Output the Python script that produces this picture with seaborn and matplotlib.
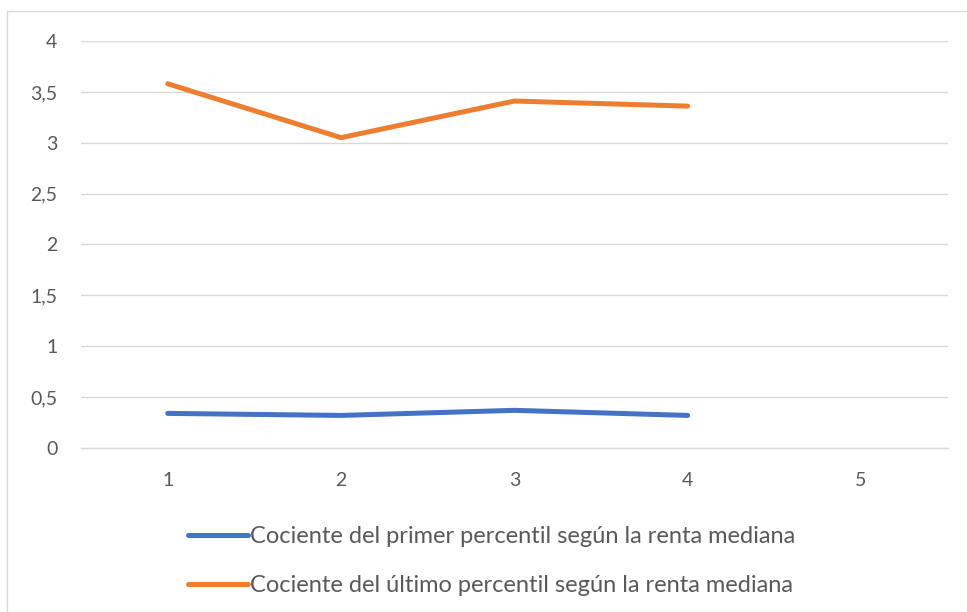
import matplotlib
matplotlib.use("Agg")
import matplotlib.pyplot as plt
import matplotlib.patches as mpatches
import seaborn as sns
import pandas as pd

# Data
periodos = [1, 2, 3, 4, 5]
primer_percentil = [0.34, 0.32, 0.37, 0.32, None]
ultimo_percentil = [3.58, 3.05, 3.41, 3.36, None]
serie_primer = "Cociente del primer percentil según la renta mediana"
serie_ultimo = "Cociente del último percentil según la renta mediana"
y_ticks = [0, 0.5, 1, 1.5, 2, 2.5, 3, 3.5, 4]

df = pd.DataFrame({
    "periodo": periodos * 2,
    "valor": primer_percentil + ultimo_percentil,
    "serie": [serie_primer] * len(periodos) + [serie_ultimo] * len(periodos),
}).dropna()

sns.set_theme(style="white")
plt.rcParams["font.family"] = ["Lato", "DejaVu Sans"]

text_color = "#595959"
grid_color = "#d9d9d9"
palette = {serie_primer: "#4472C4", serie_ultimo: "#ED7D31"}

fig = plt.figure(figsize=(9.67, 6.12), dpi=100)
ax = fig.add_axes([0.0838, 0.268, 0.980 - 0.0838, 0.933 - 0.268])

sns.lineplot(data=df, x="periodo", y="valor", hue="serie", palette=palette,
             linewidth=3.6, ax=ax, legend=False, solid_capstyle="round")

ax.set_xlim(0.5, 5.5)
ax.set_ylim(0, 4)
ax.set_xticks(periodos)
ax.set_xticklabels([str(p) for p in periodos])
ax.set_yticks(y_ticks)
ax.set_yticklabels([f"{v:g}".replace(".", ",") for v in y_ticks])
ax.set_xlabel("")
ax.set_ylabel("")

ax.grid(axis="y", color=grid_color, linewidth=1.0)
ax.set_axisbelow(True)
for side in ["left", "right", "top"]:
    ax.spines[side].set_visible(False)
ax.spines["bottom"].set_color(grid_color)
ax.spines["bottom"].set_linewidth(1.0)
ax.tick_params(axis="both", length=0, labelsize=14, colors=text_color)
ax.tick_params(axis="y", pad=17)
ax.tick_params(axis="x", pad=17)

# Legend below the plot, one entry per row
handles = [plt.Line2D([], [], color=palette[s], linewidth=3.6, solid_capstyle="round")
           for s in (serie_primer, serie_ultimo)]
leg = fig.legend(handles, [serie_primer, serie_ultimo], loc="upper left",
                 bbox_to_anchor=(188 / 967, 1 - 526 / 612), frameon=False,
                 fontsize=17, handlelength=2.54, handletextpad=0.08,
                 labelspacing=1.2, borderaxespad=0, borderpad=0)
for t in leg.get_texts():
    t.set_color(text_color)

# Chart-area border
fig.patches.append(mpatches.Rectangle((7 / 967, -0.1), 1.1, 1 - 11 / 612 + 0.1,
                                      transform=fig.transFigure, fill=False,
                                      edgecolor=grid_color, linewidth=1.0))

fig.savefig("out.png", dpi=100, facecolor="white")
